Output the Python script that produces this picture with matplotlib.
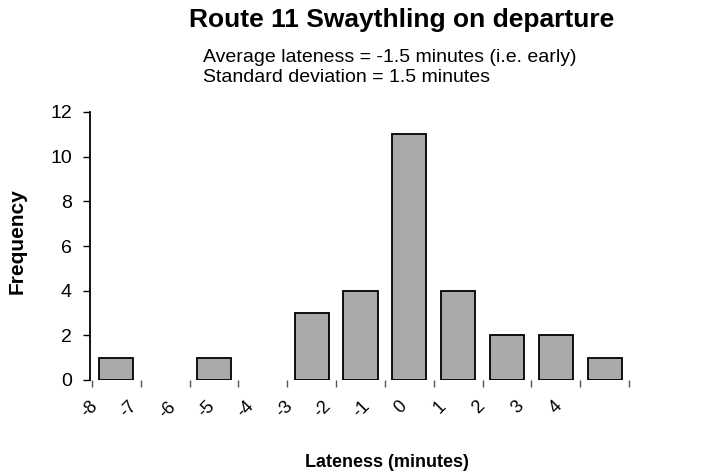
import matplotlib
matplotlib.use("Agg")
import matplotlib.pyplot as plt
import numpy as np

plt.rcParams["font.family"] = ["Liberation Sans", "DejaVu Sans"]

# Dados do histograma
frequencies = [1, 0, 1, 0, 3, 4, 11, 4, 2, 2, 1]
tick_labels = ["-8", "-7", "-6", "-5", "-4", "-3", "-2", "-1", "0", "1", "2", "3", "4"]
title = "Route 11 Swaythling on departure"
subtitle = ["Average lateness = -1.5 minutes (i.e. early)",
            "Standard deviation = 1.5 minutes"]

fig = plt.figure(figsize=(7.25, 4.76), dpi=100)
ax = fig.add_axes([90 / 725, 1 - 380 / 476, 539 / 725, 268 / 476])

n = len(frequencies)
x = np.arange(n) + 0.5
freq = np.array(frequencies)
nz = freq > 0  # classes vazias não desenham nada
ax.bar(x[nz], freq[nz], width=0.7, color="#aaaaaa", edgecolor="black", linewidth=1.3)

ax.set_xlim(0, n)
ax.set_ylim(0, 12)
ax.set_yticks(range(0, 13, 2))

# ticks nas fronteiras das classes, rótulos deslocados
ax.set_xticks(np.arange(n + 1))
ax.set_xticklabels([])
label_pos = -2 / 49 + np.arange(len(tick_labels)) * 39 / 49
ax.set_xticks(label_pos, minor=True)
ax.set_xticklabels(tick_labels, minor=True, rotation=45, ha="center", va="top", fontsize=13)
ax.tick_params(axis="x", which="minor", length=0, pad=13)
ax.tick_params(axis="x", which="major", length=5, width=1, color="#555555")
ax.tick_params(axis="y", length=5, width=1, labelsize=14, pad=8)

for s in ["top", "right", "bottom"]:
    ax.spines[s].set_visible(False)
ax.spines["left"].set_linewidth(1.3)

ax.set_ylabel("Frequency", fontsize=15, fontweight="bold")
ax.yaxis.set_label_coords(-63 / 539, 0.52)
ax.set_xlabel("Lateness (minutes)", fontsize=13, fontweight="bold")
ax.xaxis.set_label_coords((387 - 90) / 539, -74 / 268)

fig.text(402 / 725, 1 - 20 / 476, title, ha="center", va="center", fontsize=19, fontweight="bold")
fig.text(203 / 725, 1 - 57 / 476, subtitle[0], ha="left", va="center", fontsize=14)
fig.text(203 / 725, 1 - 78 / 476, subtitle[1], ha="left", va="center", fontsize=14)

fig.savefig("out.png", dpi=100)
